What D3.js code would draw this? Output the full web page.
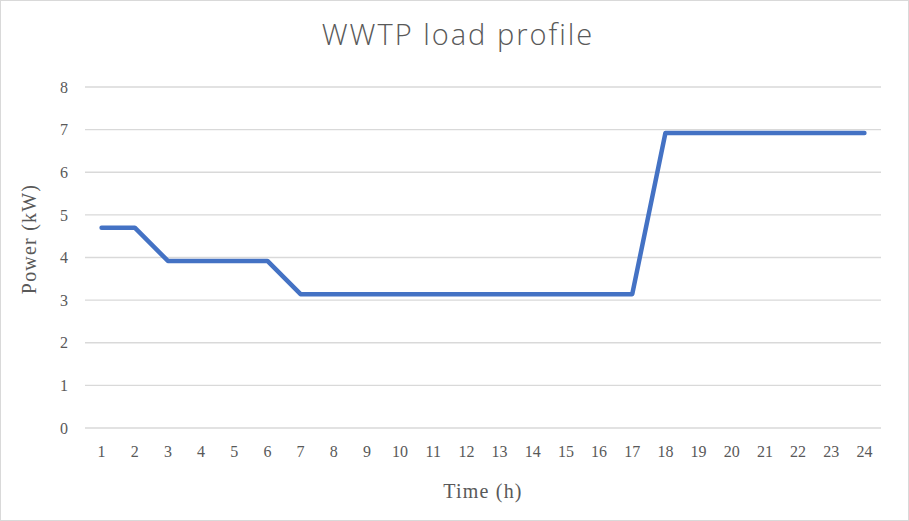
<!DOCTYPE html>
<html>
<head>
<meta charset="utf-8">
<script src="https://cdn.jsdelivr.net/npm/d3@7"></script>
<style>
  body { margin: 0; background: #fff; }
</style>
</head>
<body>
<div id="chart"></div>
<script>
var hours = d3.range(1, 25).map(String);
var power = [4.7, 4.7, 3.92, 3.92, 3.92, 3.92, 3.14, 3.14, 3.14, 3.14, 3.14, 3.14,
             3.14, 3.14, 3.14, 3.14, 3.14, 6.92, 6.92, 6.92, 6.92, 6.92, 6.92, 6.92];
var yTicks = [0, 1, 2, 3, 4, 5, 6, 7, 8];

var W = 909, H = 521;
var margin = { top: 87, right: 28, bottom: 93, left: 85 },
    width = W - margin.left - margin.right,
    height = H - margin.top - margin.bottom;

var serif = "'Liberation Serif', 'DejaVu Serif', serif";

var root = d3.select("#chart")
    .append("svg")
    .attr("width", W)
    .attr("height", H);

// chart border
root.append("rect")
    .attr("x", 0.5).attr("y", 0.5)
    .attr("width", W - 1).attr("height", H - 1)
    .attr("fill", "#fff")
    .attr("stroke", "#d9d9d9");

var svg = root.append("g")
    .attr("transform", "translate(" + margin.left + "," + margin.top + ")");

var x = d3.scaleBand().domain(hours).range([0, width]);
var y = d3.scaleLinear().domain([0, 8]).range([height, 0]);

// gridlines
svg.append("g")
    .selectAll("line")
    .data(yTicks)
    .enter()
    .append("line")
    .attr("x1", 0).attr("x2", width)
    .attr("y1", function (d) { return y(d); })
    .attr("y2", function (d) { return y(d); })
    .attr("stroke", "#d9d9d9")
    .attr("stroke-width", 1.3);

// y axis labels
var yAxis = d3.axisLeft(y).tickValues(yTicks).tickSize(0).tickPadding(17);
svg.append("g")
    .call(yAxis)
    .call(function (g) { g.select(".domain").remove(); })
    .selectAll("text")
    .attr("font-family", serif)
    .attr("font-size", 16)
    .attr("fill", "#595959");

// x axis labels
var xAxis = d3.axisBottom(x).tickSize(0).tickPadding(18);
svg.append("g")
    .attr("transform", "translate(0," + height + ")")
    .call(xAxis)
    .call(function (g) { g.select(".domain").remove(); })
    .selectAll("text")
    .attr("font-family", serif)
    .attr("font-size", 16)
    .attr("fill", "#595959");

// line
svg.append("path")
    .datum(power)
    .attr("d", d3.line()
        .x(function (d, i) { return x(hours[i]) + x.bandwidth() / 2; })
        .y(function (d) { return y(d); }))
    .attr("fill", "none")
    .attr("stroke", "#4472c4")
    .attr("stroke-width", 4.5)
    .attr("stroke-linejoin", "round")
    .attr("stroke-linecap", "round");

// title
root.append("text")
    .attr("x", 458)
    .attr("y", 45)
    .attr("text-anchor", "middle")
    .attr("font-family", "'Open Sans', 'Noto Sans', sans-serif")
    .attr("font-weight", 300)
    .attr("font-size", 29)
    .attr("letter-spacing", 2)
    .attr("fill", "#595959")
    .text("WWTP load profile");

// axis titles
root.append("text")
    .attr("x", margin.left + width / 2)
    .attr("y", 498)
    .attr("text-anchor", "middle")
    .attr("font-family", serif)
    .attr("font-size", 20)
    .attr("letter-spacing", 1.2)
    .attr("fill", "#595959")
    .text("Time (h)");

root.append("text")
    .attr("transform", "translate(36,239) rotate(-90)")
    .attr("text-anchor", "middle")
    .attr("font-family", serif)
    .attr("font-size", 20)
    .attr("letter-spacing", 1.2)
    .attr("fill", "#595959")
    .text("Power (kW)");
</script>
</body>
</html>
